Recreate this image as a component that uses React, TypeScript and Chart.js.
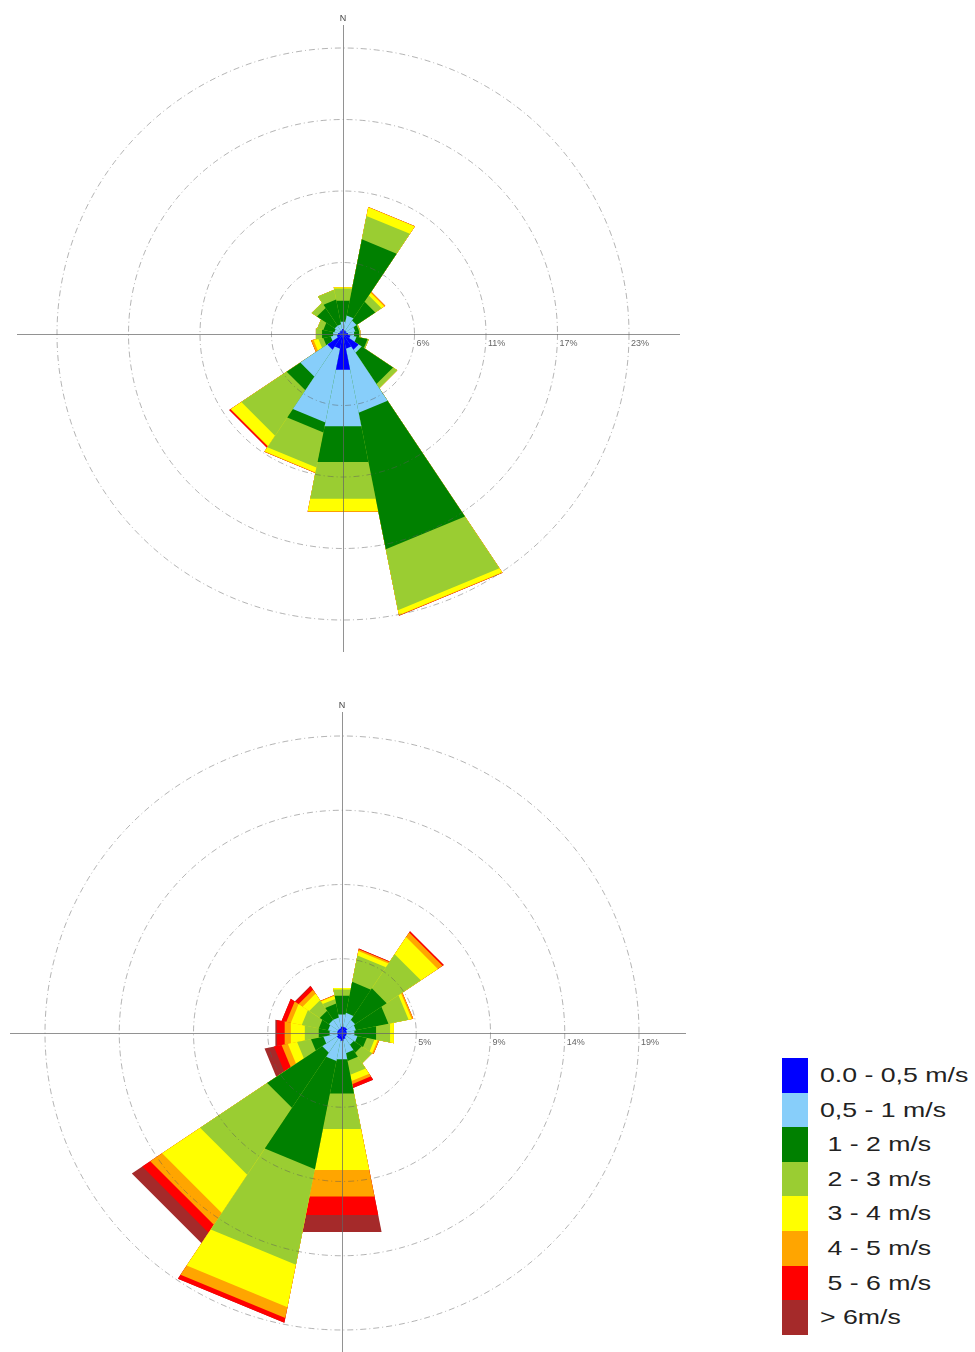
import React, { useEffect, useRef } from 'react';
import { Chart, registerables } from 'chart.js';

Chart.register(...registerables);

const DIRECTIONS = ['N', 'NNE', 'NE', 'ENE', 'E', 'ESE', 'SE', 'SSE', 'S', 'SSW', 'SW', 'WSW', 'W', 'WNW', 'NW', 'NNW'];
const SPEED_CLASSES = ['0.0 - 0,5 m/s', '0,5 - 1 m/s', ' 1 - 2 m/s', ' 2 - 3 m/s', ' 3 - 4 m/s', ' 4 - 5 m/s', ' 5 - 6 m/s', '> 6m/s'];
const CLASS_COLORS = ['#0000ff', '#87cefa', '#008000', '#9acd32', '#ffff00', '#ffa500', '#ff0000', '#a52a2a'];

// Upper rose: frequency (%) per direction for each speed class
const TOP_0_05 = [0.4, 0.3, 0.3, 0.3, 0.4, 0.6, 1.5, 1.2, 2.9, 1.2, 1.5, 0.5, 0.4, 0.3, 0.3, 0.3];
const TOP_05_1 = [0.6, 1.2, 1.0, 0.7, 0.5, 0.5, 0.3, 5.2, 4.6, 6.0, 2.6, 0.5, 0.4, 0.4, 0.5, 0.5];
const TOP_1_2 = [1.7, 6.2, 1.8, 0.3, 0.4, 0.9, 3.0, 11.1, 2.9, 0.8, 1.3, 0.6, 0.9, 0.9, 1.7, 2.0];
const TOP_2_3 = [1.0, 1.9, 0.6, 0.1, 0.1, 0.1, 0.4, 4.95, 3.0, 2.85, 4.35, 0.4, 0.5, 0.5, 0.5, 0.8];
const TOP_3_4 = [0.1, 0.7, 0.25, 0, 0, 0, 0, 0.4, 1.0, 0.4, 1.0, 0.4, 0, 0, 0, 0];
const TOP_4_5 = [0, 0.03, 0.1, 0, 0, 0, 0, 0.03, 0.04, 0.04, 0.04, 0.2, 0, 0, 0, 0];
const TOP_5_6 = [0, 0, 0, 0, 0, 0, 0, 0.02, 0, 0, 0.12, 0, 0, 0, 0, 0];
const TOP_6_UP = [0, 0, 0, 0, 0, 0, 0, 0, 0, 0, 0, 0, 0, 0, 0, 0];
const TOP_RING_VALUES = [5.7, 11.4, 17.1, 22.8];
const TOP_RING_LABELS = ['6%', '11%', '17%', '23%'];

// Lower rose
const BOT_0_05 = [0.4, 0.4, 0.4, 0.3, 0.3, 0.3, 0.3, 0.4, 0.5, 0.4, 0.4, 0.3, 0.3, 0.3, 0.3, 0.3];
const BOT_05_1 = [0.8, 0.9, 0.6, 0.6, 0.5, 0.7, 0.6, 0.9, 1.2, 1.4, 1.1, 0.9, 0.5, 0.6, 0.7, 0.7];
const BOT_1_2 = [1.2, 2.0, 2.4, 2.1, 1.4, 0.6, 0.6, 0.5, 2.2, 7.0, 4.2, 0.8, 0.7, 0.6, 0.7, 0.9];
const BOT_2_3 = [0.4, 1.7, 2.6, 1.3, 0.9, 0.5, 0.8, 0.9, 2.3, 6.15, 5.1, 0.9, 0.9, 1.1, 0.8, 0.3];
const BOT_3_4 = [0.1, 0.3, 1.3, 0.2, 0.25, 0.2, 0, 0.4, 2.65, 2.75, 2.9, 0.6, 0.9, 0.7, 0.5, 0.2];
const BOT_4_5 = [0, 0.1, 0.35, 0.1, 0, 0.1, 0, 0.2, 1.7, 0.7, 0.9, 0.4, 0.4, 0.3, 0.3, 0.05];
const BOT_5_6 = [0, 0.05, 0.1, 0, 0, 0, 0, 0.25, 1.2, 0.3, 0.6, 0.5, 0.5, 0.3, 0.25, 0];
const BOT_6_UP = [0, 0, 0, 0, 0, 0, 0, 0, 1.1, 0, 0.8, 0.6, 0.1, 0, 0.05, 0];
const BOT_RING_VALUES = [4.7, 9.4, 14.1, 18.8];
const BOT_RING_LABELS = ['5%', '9%', '14%', '19%'];

const TOP_CLASSES = [TOP_0_05, TOP_05_1, TOP_1_2, TOP_2_3, TOP_3_4, TOP_4_5, TOP_5_6, TOP_6_UP];
const BOT_CLASSES = [BOT_0_05, BOT_05_1, BOT_1_2, BOT_2_3, BOT_3_4, BOT_4_5, BOT_5_6, BOT_6_UP];

const roseDecor = {
  id: 'roseDecor',
  afterDraw(chart: any, _args: any, opts: any) {
    const s = chart.scales.r;
    const cx = s.xCenter;
    const cy = s.yCenter;
    const ctx = chart.ctx;
    ctx.save();
    ctx.strokeStyle = 'rgba(100,100,100,0.7)';
    ctx.lineWidth = 1;
    ctx.beginPath();
    ctx.moveTo(cx - opts.left, cy + 0.5);
    ctx.lineTo(cx + opts.right, cy + 0.5);
    ctx.moveTo(cx + 0.5, cy - opts.up);
    ctx.lineTo(cx + 0.5, cy + opts.down);
    ctx.stroke();
    ctx.fillStyle = '#666';
    ctx.font = '9px "Liberation Sans", Arial, sans-serif';
    ctx.textAlign = 'left';
    ctx.textBaseline = 'top';
    opts.values.forEach((v: number, i: number) => {
      const r = s.getDistanceFromCenterForValue(v);
      ctx.fillText(opts.labels[i], cx + r + 2, cy + 5);
    });
    ctx.fillStyle = '#444';
    ctx.textAlign = 'center';
    ctx.textBaseline = 'bottom';
    ctx.fillText('N', cx, cy - opts.up - 2);
    ctx.restore();
  },
};

function cumulative(classes: number[][]) {
  const out: number[][] = [];
  let run = DIRECTIONS.map(() => 0);
  classes.forEach((c) => {
    run = run.map((v, i) => +(v + c[i]).toFixed(3));
    out.push(run.slice());
  });
  return out;
}

type RoseProps = {
  classes: number[][];
  ringValues: number[];
  ringLabels: string[];
  width: number;
  height: number;
  left: number;
  top: number;
  padding: { left: number; right: number; top: number; bottom: number };
  axis: { left: number; right: number; up: number; down: number };
};

function WindRose(props: RoseProps) {
  const ref = useRef<HTMLCanvasElement | null>(null);
  useEffect(() => {
    if (!ref.current) return;
    const cum = cumulative(props.classes);
    const maxVal = props.ringValues[props.ringValues.length - 1];
    const chart = new Chart(ref.current, {
      type: 'polarArea',
      data: {
        labels: DIRECTIONS,
        datasets: cum.map((vals, k) => ({
          label: SPEED_CLASSES[k],
          data: vals,
          backgroundColor: CLASS_COLORS[k],
          borderWidth: 0,
          circular: false,
        })) as any,
      },
      options: {
        responsive: false,
        animation: false,
        layout: { padding: props.padding },
        elements: { arc: { borderWidth: 0, circular: false } as any },
        plugins: {
          legend: { display: false },
          tooltip: { enabled: false },
          roseDecor: { ...props.axis, values: props.ringValues, labels: props.ringLabels },
        } as any,
        scales: {
          r: {
            min: 0,
            max: maxVal,
            startAngle: -11.25,
            ticks: { display: false },
            afterBuildTicks: (scale: any) => {
              scale.ticks = [0, ...props.ringValues].map((v) => ({ value: v }));
            },
            grid: { z: 1, color: 'rgba(90,90,90,0.65)', lineWidth: 0.7, circular: true },
            border: { dash: [6, 3, 1, 3] },
            angleLines: { display: false },
            pointLabels: { display: false },
          } as any,
        },
      },
      plugins: [roseDecor],
    });
    return () => chart.destroy();
  }, []);
  return (
    <canvas
      ref={ref}
      width={props.width}
      height={props.height}
      style={{ position: 'absolute', left: props.left, top: props.top, width: props.width, height: props.height }}
    />
  );
}

export default function App() {
  return (
    <div style={{ position: 'absolute', left: 0, top: 0, width: 975, height: 1352, overflow: 'hidden', background: '#fff' }}>
      <WindRose
        classes={TOP_CLASSES}
        ringValues={TOP_RING_VALUES}
        ringLabels={TOP_RING_LABELS}
        width={700}
        height={670}
        left={0}
        top={0}
        padding={{ left: 57, right: 71, top: 48, bottom: 50 }}
        axis={{ left: 326, right: 337, up: 309, down: 318 }}
      />
      <WindRose
        classes={BOT_CLASSES}
        ringValues={BOT_RING_VALUES}
        ringLabels={BOT_RING_LABELS}
        width={700}
        height={672}
        left={0}
        top={680}
        padding={{ left: 45, right: 61, top: 56, bottom: 22 }}
        axis={{ left: 332, right: 344, up: 321, down: 330 }}
      />
      <div style={{ position: 'absolute', left: 782, top: 1058 }}>
        {SPEED_CLASSES.map((label, i) => (
          <div key={label} style={{ position: 'relative', height: 34.6 }}>
            <div style={{ position: 'absolute', left: 0, top: 0, width: 26, height: 34.6, background: CLASS_COLORS[i] }} />
            <div
              style={{
                position: 'absolute',
                left: 38,
                top: 0,
                height: 34.6,
                lineHeight: '34.6px',
                whiteSpace: 'pre',
                fontFamily: '"Liberation Sans", Arial, sans-serif',
                fontSize: 21,
                color: '#222',
                transform: 'scaleX(1.27)',
                transformOrigin: 'left center',
              }}
            >
              {label}
            </div>
          </div>
        ))}
      </div>
    </div>
  );
}
